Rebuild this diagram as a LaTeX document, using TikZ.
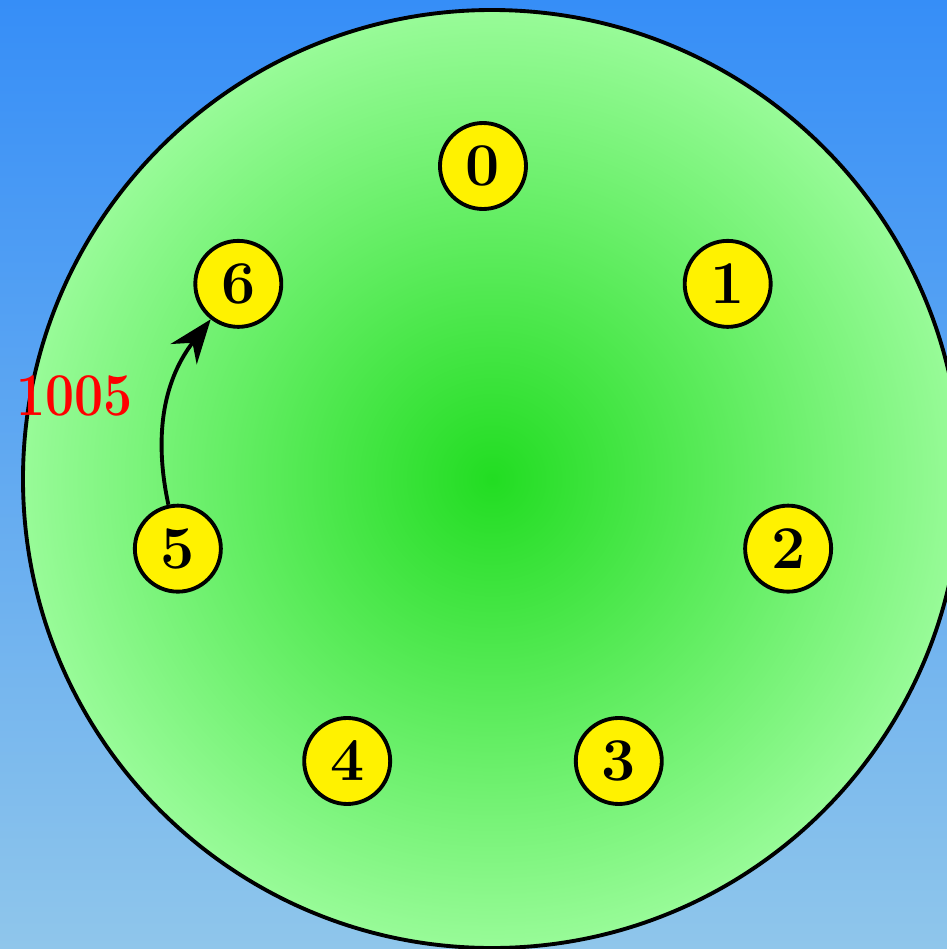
\documentclass[tikz,border=0pt]{standalone}
\usetikzlibrary{arrows.meta}
\definecolor{skytop}{RGB}{54,142,247}
\definecolor{skybottom}{RGB}{143,198,235}
\definecolor{ringin}{RGB}{34,221,34}
\definecolor{ringout}{RGB}{152,251,152}

\begin{document}
\begin{tikzpicture}[
  pt/.style={circle, draw, line width=1.1pt, fill=yellow, minimum size=8.6mm, inner sep=0pt, font=\LARGE\bfseries},
  arr/.style={-{Stealth[length=4.4mm, width=3.3mm]}, line width=1.1pt},
  lab/.style={text=red, font=\LARGE\bfseries}
]
\clip (-4.83,4.79) rectangle (4.64,-4.70);
\shade[top color=skytop, bottom color=skybottom] (-4.83,4.79) rectangle (4.64,-4.70);

\shadedraw[inner color=ringin, outer color=ringout, line width=1.1pt] (0.09,0) circle (4.69);

\foreach \i in {0,...,6}
  \node[pt] (n\i) at ({90-\i*360/7}:3.13) {\i};

\draw[arr] (n5) to[bend left=25] node[lab, left=5.7pt, yshift=3pt] (lbl) {\scalebox{0.85}[1]{1005}} (n6);
\end{tikzpicture}
\end{document}
